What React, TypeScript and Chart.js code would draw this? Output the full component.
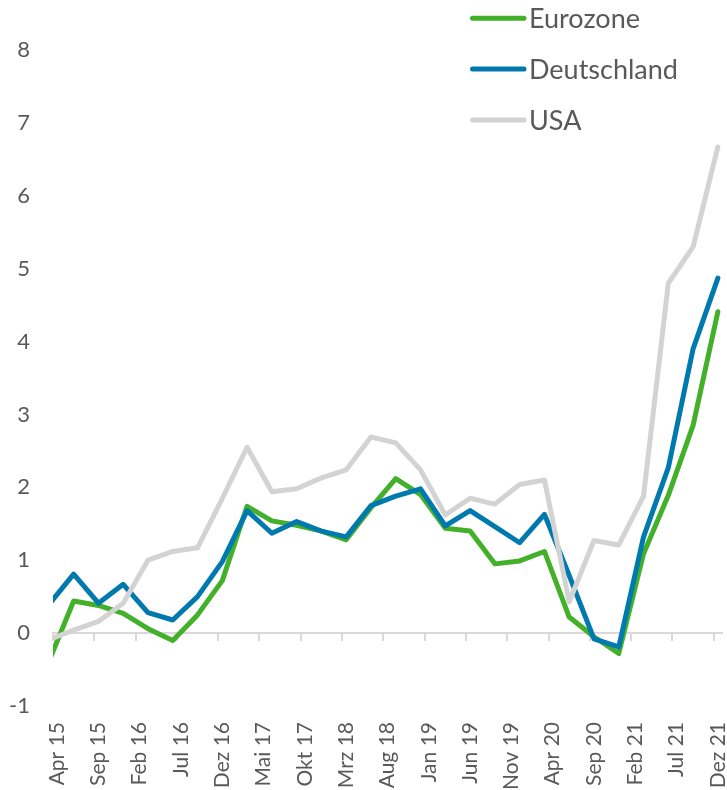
import React, { useEffect, useRef } from 'react';
import { Chart, registerables } from 'chart.js';

Chart.register(...registerables);

// ---------- data ----------
const MONTHS = ['Jan', 'Feb', 'Mrz', 'Apr', 'Mai', 'Jun', 'Jul', 'Aug', 'Sep', 'Okt', 'Nov', 'Dez'];

// labelled months on the category (month) axis
const tickLabels = [
  'Apr 15', 'Sep 15', 'Feb 16', 'Jul 16', 'Dez 16', 'Mai 17', 'Okt 17', 'Mrz 18', 'Aug 18',
  'Jan 19', 'Jun 19', 'Nov 19', 'Apr 20', 'Sep 20', 'Feb 21', 'Jul 21', 'Dez 21',
];

// observation dates (quarter ends)
const quarters = [
  'Mrz 15', 'Jun 15', 'Sep 15', 'Dez 15',
  'Mrz 16', 'Jun 16', 'Sep 16', 'Dez 16',
  'Mrz 17', 'Jun 17', 'Sep 17', 'Dez 17',
  'Mrz 18', 'Jun 18', 'Sep 18', 'Dez 18',
  'Mrz 19', 'Jun 19', 'Sep 19', 'Dez 19',
  'Mrz 20', 'Jun 20', 'Sep 20', 'Dez 20',
  'Mrz 21', 'Jun 21', 'Sep 21', 'Dez 21',
];

const eurozone = [
  -0.39, 0.44, 0.38, 0.27, 0.06, -0.10, 0.25, 0.72, 1.74, 1.54, 1.48, 1.40, 1.28, 1.72,
  2.12, 1.90, 1.44, 1.40, 0.95, 0.99, 1.12, 0.22, -0.05, -0.28, 1.09, 1.89, 2.85, 4.41,
];
const deutschland = [
  0.39, 0.81, 0.41, 0.67, 0.28, 0.18, 0.50, 0.98, 1.68, 1.37, 1.53, 1.40, 1.32, 1.75,
  1.88, 1.98, 1.47, 1.68, 1.46, 1.24, 1.63, 0.79, -0.08, -0.19, 1.32, 2.27, 3.90, 4.87,
];
const usa = [
  -0.09, 0.04, 0.16, 0.41, 1.00, 1.12, 1.17, 1.85, 2.55, 1.94, 1.98, 2.13, 2.24, 2.69,
  2.61, 2.24, 1.62, 1.85, 1.77, 2.04, 2.10, 0.43, 1.27, 1.21, 1.88, 4.80, 5.30, 6.67,
];

const seriesNames = ['Eurozone', 'Deutschland', 'USA'];
const yMin = -1;
const yMax = 8;

// ---------- helpers ----------
const firstMonth = tickLabels[0];
function monthIndex(label: string): number {
  const [m, y] = label.split(' ');
  const [m0, y0] = firstMonth.split(' ');
  return (parseInt(y, 10) - parseInt(y0, 10)) * 12 + MONTHS.indexOf(m) - MONTHS.indexOf(m0);
}
const lastIdx = monthIndex(tickLabels[tickLabels.length - 1]);
const labelIdx = tickLabels.map(monthIndex);

function points(values: number[]) {
  return quarters.map((q, i) => ({ x: monthIndex(q), y: values[i] }));
}

const TEXT = '#595959';
const FONT = 'Lato';

const stackedLegend = {
  id: 'stackedLegend',
  afterDraw(chart: any, _args: any, opts: any) {
    const { ctx } = chart;
    chart.data.datasets.forEach((ds: any, i: number) => {
      const y = opts.top + i * opts.rowHeight;
      ctx.save();
      ctx.strokeStyle = ds.borderColor;
      ctx.lineWidth = 5;
      ctx.lineCap = 'round';
      ctx.beginPath();
      ctx.moveTo(opts.left, y);
      ctx.lineTo(opts.left + opts.lineLength, y);
      ctx.stroke();
      ctx.fillStyle = TEXT;
      ctx.font = `${opts.fontSize}px ${FONT}`;
      ctx.textBaseline = 'alphabetic';
      ctx.textAlign = 'left';
      ctx.fillText(ds.label, opts.left + opts.lineLength + opts.gap, y + opts.baselineShift);
      ctx.restore();
    });
  },
};

export default function App() {
  const ref = useRef<HTMLCanvasElement | null>(null);

  useEffect(() => {
    if (!ref.current) return;
    const chart = new Chart(ref.current, {
      type: 'line',
      data: {
        datasets: [
          { label: seriesNames[0], data: points(eurozone), borderColor: '#43B02A', order: 3 },
          { label: seriesNames[1], data: points(deutschland), borderColor: '#0079AE', order: 2 },
          { label: seriesNames[2], data: points(usa), borderColor: '#D3D3D3', order: 1 },
        ].map((d) => ({
          ...d,
          borderWidth: 5,
          pointRadius: 0,
          tension: 0,
          fill: false,
          clip: 0,
          borderJoinStyle: 'round' as const,
          borderCapStyle: 'round' as const,
        })),
      },
      plugins: [stackedLegend],
      options: {
        animation: false,
        responsive: true,
        maintainAspectRatio: false,
        devicePixelRatio: 1,
        events: [],
        layout: { padding: { top: 50, right: 5, bottom: 0, left: 0 } },
        plugins: {
          legend: { display: false },
          tooltip: { enabled: false },
          stackedLegend: {
            left: 472.5,
            lineLength: 51.5,
            gap: 5,
            top: 18.3,
            rowHeight: 50.8,
            fontSize: 27,
            baselineShift: 9.9,
          },
        } as any,
        scales: {
          x: {
            type: 'linear',
            position: 'bottom',
            min: -0.5,
            max: lastIdx + 0.5,
            grid: { display: false, drawTicks: false },
            border: { display: false },
            afterBuildTicks: (scale: any) => {
              scale.ticks = labelIdx.map((v) => ({ value: v }));
            },
            afterFit: (scale: any) => {
              scale.height = 84;
              scale.paddingLeft = 0;
              scale.paddingRight = 0;
            },
            ticks: {
              autoSkip: false,
              maxRotation: 90,
              minRotation: 90,
              padding: 16,
              color: TEXT,
              font: { family: FONT, size: 21 },
              callback: (_v: any, i: number) => tickLabels[i],
            },
          },
          x2: {
            type: 'linear',
            axis: 'x',
            position: { y: 0 },
            min: -0.5,
            max: lastIdx + 0.5,
            afterBuildTicks: (scale: any) => {
              scale.ticks = labelIdx.map((v) => ({ value: v - 0.5 }));
            },
            afterFit: (scale: any) => {
              scale.paddingLeft = 0;
              scale.paddingRight = 0;
            },
            grid: {
              display: true,
              drawOnChartArea: false,
              drawTicks: true,
              tickLength: 7,
              color: '#D9D9D9',
              lineWidth: 2,
            },
            border: { display: true, color: '#D9D9D9', width: 2 },
            ticks: { display: false },
          },
          y: {
            type: 'linear',
            position: 'left',
            min: yMin,
            max: yMax,
            grid: { display: false, drawTicks: false },
            border: { display: false },
            afterFit: (scale: any) => {
              scale.width = 53;
              scale.paddingTop = 0;
              scale.paddingBottom = 0;
            },
            ticks: {
              stepSize: 1,
              padding: 23,
              color: TEXT,
              font: { family: FONT, size: 22 },
            },
          },
        } as any,
      },
    });
    return () => chart.destroy();
  }, []);

  return (
    <div style={{ position: 'absolute', left: 0, top: 0, width: 727, height: 790, background: '#fff' }}>
      <canvas ref={ref} style={{ display: 'block' }} />
    </div>
  );
}
